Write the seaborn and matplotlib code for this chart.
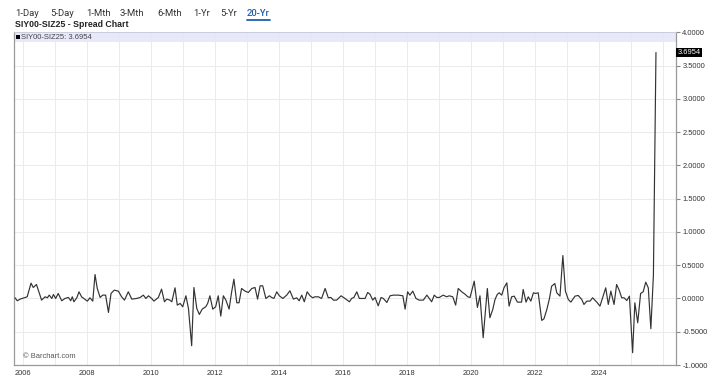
import matplotlib
matplotlib.use("Agg")
import matplotlib.pyplot as plt
import matplotlib.transforms as mtransforms
from matplotlib.lines import Line2D
from matplotlib.patches import Rectangle
from matplotlib.ticker import MultipleLocator, FuncFormatter
import pandas as pd
import seaborn as sns

# ---------------- data ----------------
years = [
    2005.76, 2005.83, 2005.92, 2006.14, 2006.26, 2006.33, 2006.43, 2006.59, 2006.70, 2006.77,
    2006.83, 2006.91, 2006.96, 2007.03, 2007.11, 2007.22, 2007.32, 2007.43, 2007.50, 2007.55,
    2007.60, 2007.69, 2007.76, 2007.84, 2007.95, 2008.02, 2008.10, 2008.19, 2008.26, 2008.33,
    2008.42, 2008.50, 2008.59, 2008.68, 2008.76, 2008.86, 2008.99, 2009.09, 2009.18, 2009.30,
    2009.41, 2009.56, 2009.67, 2009.77, 2009.85, 2009.93, 2010.03, 2010.10, 2010.24, 2010.34,
    2010.43, 2010.50, 2010.60, 2010.66, 2010.76, 2010.83, 2010.92, 2011.00, 2011.10, 2011.18,
    2011.28, 2011.35, 2011.44, 2011.52, 2011.61, 2011.72, 2011.78, 2011.85, 2011.94, 2012.03,
    2012.11, 2012.19, 2012.27, 2012.35, 2012.45, 2012.53, 2012.60, 2012.69, 2012.76, 2012.84,
    2012.95, 2013.05, 2013.16, 2013.26, 2013.34, 2013.42, 2013.50, 2013.60, 2013.71, 2013.78,
    2013.85, 2013.94, 2014.02, 2014.13, 2014.25, 2014.35, 2014.46, 2014.56, 2014.64, 2014.72,
    2014.80, 2014.89, 2014.98, 2015.06, 2015.13, 2015.24, 2015.34, 2015.45, 2015.55, 2015.63,
    2015.71, 2015.81, 2015.95, 2016.07, 2016.21, 2016.28, 2016.35, 2016.44, 2016.52, 2016.63,
    2016.70, 2016.78, 2016.85, 2016.94, 2017.01, 2017.11, 2017.20, 2017.27, 2017.38, 2017.48,
    2017.58, 2017.74, 2017.88, 2017.95, 2018.03, 2018.10, 2018.19, 2018.29, 2018.39, 2018.52,
    2018.63, 2018.78, 2018.86, 2018.94, 2019.02, 2019.14, 2019.25, 2019.33, 2019.44, 2019.53,
    2019.61, 2019.72, 2019.82, 2019.91, 2019.98, 2020.11, 2020.21, 2020.29, 2020.39, 2020.52,
    2020.60, 2020.69, 2020.76, 2020.83, 2020.89, 2020.97, 2021.04, 2021.13, 2021.20, 2021.28,
    2021.36, 2021.46, 2021.59, 2021.64, 2021.73, 2021.80, 2021.88, 2021.96, 2022.03, 2022.11,
    2022.22, 2022.29, 2022.38, 2022.46, 2022.53, 2022.63, 2022.69, 2022.79, 2022.88, 2022.96,
    2023.05, 2023.13, 2023.26, 2023.36, 2023.47, 2023.54, 2023.63, 2023.73, 2023.81, 2023.94,
    2024.04, 2024.13, 2024.22, 2024.30, 2024.38, 2024.48, 2024.56, 2024.64, 2024.72, 2024.79,
    2024.88, 2024.96, 2025.06, 2025.13, 2025.22, 2025.31, 2025.39, 2025.47, 2025.55, 2025.63,
    2025.71, 2025.79,
]
spread = [
    0.01, -0.035, -0.01, 0.025, 0.23, 0.165, 0.21, -0.025, 0.025, 0.01,
    0.05, 0.0, 0.06, 0.0, 0.075, -0.035, 0.0, 0.015, -0.035, 0.025,
    -0.05, 0.01, 0.1, 0.025, -0.015, -0.04, 0.01, -0.04, 0.36, 0.15,
    0.015, 0.05, 0.05, -0.21, 0.075, 0.125, 0.11, 0.025, -0.025, 0.1,
    -0.01, 0.0, 0.015, 0.05, 0.0, 0.04, 0.0, -0.04, 0.015, 0.14,
    -0.05, -0.01, -0.025, -0.05, 0.16, -0.1, -0.075, -0.125, 0.04, -0.15,
    -0.71, 0.165, -0.15, -0.24, -0.16, -0.125, -0.075, 0.04, -0.16, -0.125,
    0.04, -0.265, 0.04, -0.025, -0.16, 0.1, 0.29, -0.065, -0.065, 0.15,
    0.11, 0.09, 0.15, 0.165, -0.01, 0.19, 0.19, 0.0, 0.04, 0.015,
    0.0, 0.1, 0.04, 0.0, 0.05, 0.115, -0.01, 0.01, -0.035, 0.05,
    -0.05, 0.1, 0.04, 0.01, 0.025, 0.025, 0.0, 0.15, 0.01, 0.015,
    -0.025, -0.025, 0.04, 0.0, -0.05, 0.0, 0.015, 0.1, 0.0, 0.0,
    0.0, 0.09, 0.065, -0.025, 0.015, -0.11, 0.015, 0.0, -0.06, 0.04,
    0.05, 0.05, 0.04, -0.16, 0.1, 0.05, 0.11, 0.0, -0.025, -0.025,
    0.05, -0.05, 0.05, 0.015, 0.015, 0.05, 0.025, 0.04, 0.025, -0.1,
    0.15, 0.1, 0.065, 0.025, 0.015, 0.26, -0.135, 0.04, -0.59, 0.15,
    -0.29, -0.165, -0.015, 0.06, 0.085, 0.05, 0.16, 0.235, -0.115, 0.025,
    0.035, -0.055, -0.055, 0.135, -0.055, 0.025, -0.04, 0.085, 0.075, 0.085,
    -0.33, -0.305, -0.165, -0.005, 0.185, 0.225, 0.085, 0.035, 0.645, 0.11,
    -0.015, -0.055, 0.035, 0.045, -0.015, -0.09, -0.04, -0.04, 0.01, -0.055,
    -0.115, 0.025, 0.16, -0.09, 0.11, -0.09, 0.21, 0.125, 0.01, 0.01,
    -0.03, 0.035, -0.815, -0.065, -0.365, 0.075, 0.1, 0.245, 0.16, -0.455,
    0.35, 3.6954,
]
symbol = "SIY00-SIZ25"
last_value = 3.6954
chart_title = "SIY00-SIZ25 - Spread Chart"
tabs = ["1-Day", "5-Day", "1-Mth", "3-Mth", "6-Mth", "1-Yr", "5-Yr", "20-Yr"]
active_tab = "20-Yr"
year_labels = list(range(2006, 2026, 2))

df = pd.DataFrame({"year": years, "spread": spread})

# ---------------- figure ----------------
sns.set_theme(style="white")
plt.rcParams["font.family"] = ["Liberation Sans", "DejaVu Sans"]

W, H = 722, 392
fig = plt.figure(figsize=(W / 100, H / 100), dpi=100)
fig.patch.set_facecolor("white")

def fx(px):
    return px / W

def fy(py):
    return 1 - py / H

left, right, top, bottom = 14, 676, 32.3, 365
ax = fig.add_axes([fx(left), fy(bottom), fx(right - left), (bottom - top) / H])
ax.set_facecolor("white")

sns.lineplot(data=df, x="year", y="spread", ax=ax, color="#333333",
             linewidth=0.85, zorder=3)

ax.set_xlim(2005.728, 2026.416)
ax.set_ylim(-1.0, 4.0)
ax.set_xlabel("")
ax.set_ylabel("")

# x axis: labelled even years, gridlines every year
ax.set_xticks(year_labels)
ax.set_xticklabels([str(y) for y in year_labels])
ax.xaxis.set_minor_locator(MultipleLocator(1))
ax.tick_params(axis="x", which="major", direction="out", length=2, width=0.8,
               color="#888888", labelsize=5.4, labelcolor="#333333", pad=1.5)
ax.tick_params(axis="x", which="minor", length=0)

# y axis on the right
ax.yaxis.tick_right()
ax.yaxis.set_major_locator(MultipleLocator(0.5))
ax.yaxis.set_major_formatter(FuncFormatter(lambda v, p: f"{v:.4f}"))
ax.tick_params(axis="y", which="major", direction="out", length=3, width=0.8,
               color="#888888", labelsize=5.4, labelcolor="#333333", pad=1.5)

ax.grid(True, which="both", axis="x", color="#ebebeb", linewidth=0.75, zorder=0)
ax.grid(True, which="major", axis="y", color="#ebebeb", linewidth=0.75, zorder=0)
ax.set_axisbelow(True)

for side in ["left", "bottom", "right"]:
    ax.spines[side].set_visible(True)
    ax.spines[side].set_color("#9a9a9a")
    ax.spines[side].set_linewidth(0.9)
ax.spines["top"].set_visible(True)
ax.spines["top"].set_color("#c8c8d8")
ax.spines["top"].set_linewidth(0.6)

# legend band at top of plot
band_h = 10.0 / (bottom - top)
ax.add_patch(Rectangle((0, 1 - band_h), 1, band_h, transform=ax.transAxes,
                       facecolor="#e6e6fb", edgecolor="none", alpha=0.9, zorder=2))
fig.patches.append(Rectangle((fx(16), fy(39)), 3.6 / W, 3.6 / H,
                             transform=fig.transFigure, facecolor="black",
                             edgecolor="none"))
fig.text(fx(21), fy(37.2), f"{symbol}: {last_value:.4f}", fontsize=5.5,
         color="#444444", ha="left", va="center")

# last value marker on right axis
trans = mtransforms.blended_transform_factory(ax.transAxes, ax.transData)
ax.text(1.002, last_value, f"{last_value:.4f}", transform=trans, fontsize=5.4,
        color="white", ha="left", va="center", zorder=5, clip_on=False,
        bbox=dict(boxstyle="square,pad=0.15", facecolor="black", edgecolor="none"))

# watermark
fig.text(fx(23), fy(356), "\u00a9 Barchart.com", fontsize=5.4, color="#555555",
         ha="left", va="center")

# tabs
tab_x = [15, 50, 86, 120, 157, 193, 220, 247]
for t, x in zip(tabs, tab_x):
    is_active = t == active_tab
    fig.text(fx(x), fy(13.5), t, fontsize=6.8,
             family=["Roboto", "DejaVu Sans"],
             color="#1f5fae" if is_active else "#333333",
             fontweight="medium" if is_active else "normal",
             ha="left", va="center")
fig.add_artist(Line2D([fx(247), fx(270)], [fy(19.8), fy(19.8)],
                      transform=fig.transFigure, color="#1f5fae", linewidth=1.3))

# title
fig.text(fx(15), fy(24.6), chart_title, fontsize=6.3, fontweight="bold",
         color="#222222", ha="left", va="center")

fig.savefig("out.png", dpi=100)
